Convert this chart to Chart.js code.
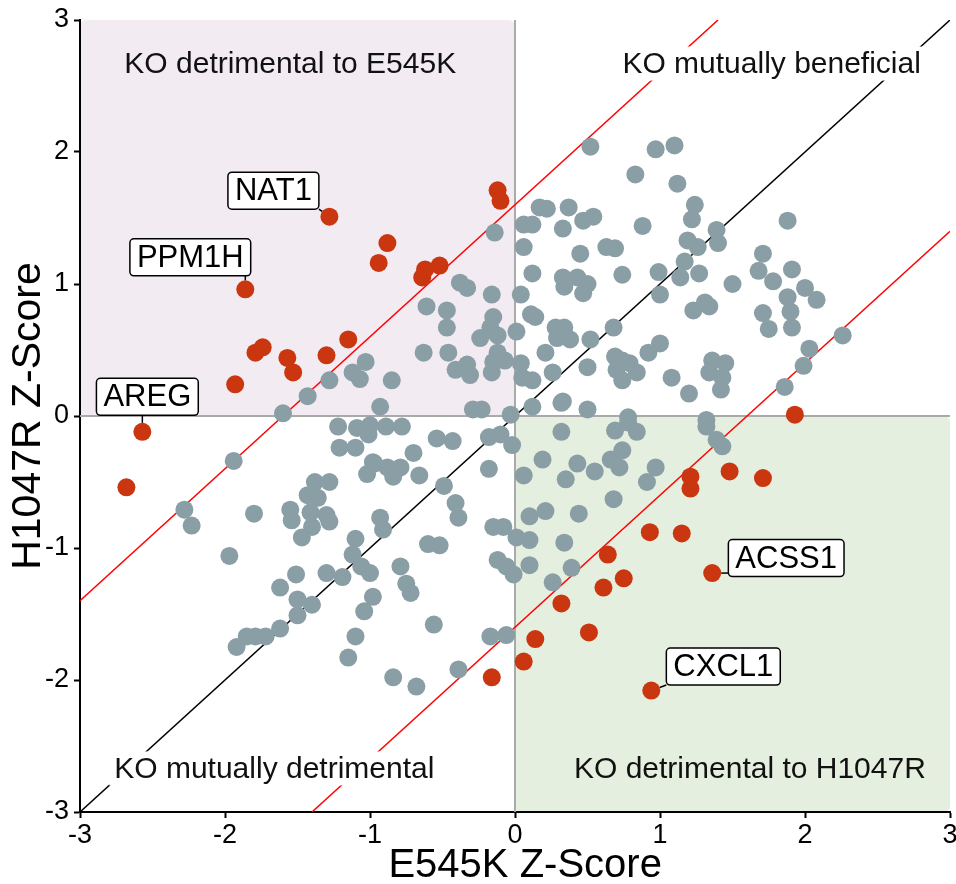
<!DOCTYPE html>
<html>
<head>
<meta charset="utf-8">
<script src="https://cdn.jsdelivr.net/npm/chart.js@4.4.1/dist/chart.umd.min.js"></script>
<style>
  html, body { margin: 0; padding: 0; background: #fff; }
  #wrap { width: 956px; height: 884px; }
</style>
</head>
<body>
<div id="wrap"><canvas id="chart" width="956" height="884"></canvas></div>
<script>
// genes that are not hits (grey)
var otherE545K = [
  0.52, 0.97, 1.10, 0.83, 1.12, 1.24, 1.22, 1.39, 1.40, 1.19, 1.26, 1.88, 0.88, 0.17, 0.22, 0.37,
  0.06, 0.12, 0.33, 0.47, 0.54, 0.06, 0.45, 0.63, 0.69, 0.12, 0.33, 0.34, 0.43, 0.50, 0.47, 0.74,
  0.99, 1.17, 1.14, 1.27, 1.00, 1.50, 1.71, 1.68, 1.78, 1.91, 2.00, 2.08, 1.88, 1.71, 1.75, 1.90,
  1.91, 1.23, 1.31, 1.34, 2.26, 2.03, 1.99, 1.86, 0.04, 0.11, 0.14, 0.01, 0.28, 0.34, 0.29, 0.38,
  0.21, 0.26, 0.50, 0.52, 0.68, 0.69, 0.74, 0.79, 0.70, 0.74, 0.84, 0.92, 1.00, 1.08, 1.20, 1.36,
  1.45, 1.34, 1.43, 1.42, 0.04, 0.05, 0.12, -0.07, 0.33, 0.12, 0.50, 0.78, -0.03, 1.32,
  -0.14, -0.38, -0.33, -0.16, -0.61, -0.47, -0.47, -0.15, -0.17, -0.24, -0.12, -0.63, -0.46, -0.12,
  -0.15, -0.41, -0.33, -0.31, -0.16, -1.03, -1.12, -1.07, -1.28, -0.85, -1.43, -0.93, -0.29, -0.23,
  -1.60, -1.94, -2.28, -2.23, -1.80, -1.97, -1.55, -1.54, -1.38, -1.28, -1.43, -1.36, -1.41, -1.30,
  -1.28, -1.40, -1.47, -1.22, -1.09, -1.00, -1.01, -1.21, -1.10, -0.98, -1.02, -0.93, -1.10, -1.12,
  -1.06, -1.00, -1.30, -1.19, -1.51, -1.62, -1.50, -1.40, -1.50, -0.98, -1.04, -1.10, -1.15, -1.62,
  -1.72, -1.85, -1.79, -1.92, -0.89, -0.78, -0.54, -0.43, -0.70, -0.97, -0.88, -0.79, -0.84, -0.66,
  -0.49, -0.41, -0.39, -0.91, -0.60, -0.52, -0.79, -0.75, -0.72, -0.56, -0.18, -0.18, -0.10, -0.02,
  -0.15, -0.08, 0.01, -0.12, -0.06, -0.01, 0.06, 0.10, 0.10, -0.17, -0.06, -0.39, -0.84, -0.68,
  0.32, 0.32, 0.69, 0.78, 0.84, 1.32, 1.39, 1.43, 0.19, 0.43, 0.55, 0.66, 0.74, 0.72, 0.97, 0.91,
  0.35, 0.68, 0.21, 0.44, 0.10, 0.34, 0.26, 0.39
];
var otherH1047R = [
  2.04, 2.02, 2.05, 1.83, 1.76, 1.60, 1.49, 1.41, 1.31, 1.33, 1.28, 1.48, 1.44, 1.58, 1.57, 1.58,
  1.45, 1.45, 1.42, 1.48, 1.51, 1.28, 1.23, 1.28, 1.27, 1.08, 1.05, 0.98, 1.05, 1.00, 0.93, 1.07,
  1.09, 1.17, 1.05, 1.08, 0.92, 1.00, 1.23, 1.10, 1.02, 1.11, 0.97, 0.88, 0.90, 0.78, 0.66, 0.79,
  0.67, 0.80, 0.86, 0.83, 0.61, 0.51, 0.38, 0.22, 0.92, 0.77, 0.75, 0.64, 0.67, 0.67, 0.59, 0.58,
  0.48, 0.33, 0.37, 0.58, 0.67, 0.45, 0.42, 0.40, 0.35, 0.27, 0.33, 0.48, 0.55, 0.29, 0.17, 0.42,
  0.40, 0.33, 0.29, 0.20, 0.40, 0.29, 0.27, 0.42, 0.11, 0.07, 0.05, -0.01, 0.01, -0.03,
  1.39, 1.01, 0.97, 0.92, 0.83, 0.80, 0.67, 0.75, 0.67, 0.59, 0.61, 0.48, 0.48, 0.48,
  0.41, 0.35, 0.39, 0.31, 0.33, 0.41, 0.33, 0.28, 0.27, 0.27, 0.15, 0.07, 0.05, 0.05,
  0.02, -0.34, -0.71, -0.83, -0.74, -1.06, -0.71, -0.79, -0.50, -0.50, -0.60, -0.62, -0.73, -0.75,
  -0.80, -0.84, -0.92, -0.08, -0.09, -0.07, -0.14, -0.24, -0.24, -0.35, -0.44, -0.77, -0.93, -1.05,
  -1.14, -1.19, -1.19, -1.22, -1.20, -1.30, -1.39, -1.43, -1.51, -1.37, -1.48, -1.67, -1.83, -1.61,
  -1.67, -1.67, -1.67, -1.75, -0.08, -0.08, -0.17, -0.19, -0.28, -0.36, -0.39, -0.39, -0.46, -0.45,
  -0.53, -0.66, -0.77, -0.86, -0.97, -0.98, -1.14, -1.27, -1.34, -1.58, -0.40, -0.16, -0.14, -0.22,
  -0.84, -0.84, -0.92, -1.09, -1.14, -1.20, -0.45, -0.76, -1.13, -1.67, -1.66, -1.92, -1.98, -2.05,
  0.10, -0.12, -0.11, -0.05, -0.12, -0.08, -0.18, -0.23, -0.33, -0.36, -0.42, -0.33, -0.26, -0.39, -0.39, -0.50,
  -0.48, -0.63, -0.72, -0.74, -0.94, -0.96, -1.26, -1.15
];

// hits (red), with the named ones
var hitE545K = [
  -2.57, -2.68, -1.86, -1.28, -1.93, -1.79, -1.74, -1.57, -1.53, -1.30, -1.15, -0.94, -0.88, -0.64,
  -0.62, -0.52, -0.12, -0.10, 1.93, 1.48, 1.71, 1.21, 1.21, 0.93, 1.15, 1.36, 0.64, 0.75, 0.61,
  0.32, 0.51, 0.14, 0.06, -0.16, 0.94
];
var hitH1047R = [
  -0.12, -0.54, 0.96, 1.51, 0.24, 0.48, 0.52, 0.44, 0.33, 0.46, 0.58, 1.16, 1.31, 1.05,
  1.11, 1.14, 1.71, 1.63, 0.01, -0.42, -0.47, -0.46, -0.55, -0.88, -0.89, -1.19, -1.05, -1.23, -1.30,
  -1.42, -1.64, -1.69, -1.86, -1.98, -2.08
];
var hitGenes = [
  'AREG', '', 'PPM1H', 'NAT1', '', '', '', '', '', '', '', '', '', '',
  '', '', '', '', '', '', '', '', '', '', '', 'ACSS1', '', '', '',
  '', '', '', '', '', 'CXCL1'
];

var tickValues = [-3, -2, -1, 0, 1, 2, 3];
var axisMin = -3, axisMax = 3;
var cutoff = 1.6; // red lines: y = x +/- cutoff

var quadrantTexts = ['KO detrimental to E545K', 'KO mutually beneficial', 'KO mutually detrimental', 'KO detrimental to H1047R'];
var xTitle = 'E545K Z-Score';

// where things go (data coords for annotation only)
var quadrantTextPos = [[-1.55, 2.67], [1.77, 2.67], [-1.66, -2.67], [1.62, -2.67]];
var quadrantTextFill = ['#f3ebf2', '#ffffff', '#ffffff', '#e5efdf'];
var labelOffset = {AREG: [5, -35], PPM1H: [-55, -32], NAT1: [-56, -26], ACSS1: [74, -15], CXCL1: [72, -24]};

var GREY = '#8a9ea5';
var RED = '#c9360f';
var FONT = '"Liberation Sans", Arial, Helvetica, sans-serif';

function pts(xs, ys) {
  return xs.map(function(x, i) { return {x: x, y: ys[i]}; });
}

var quadrantPlugin = {
  id: 'quadrants',
  beforeDraw: function(chart) {
    var ctx = chart.ctx, xs = chart.scales.x, ys = chart.scales.y;
    var x0 = xs.getPixelForValue(0), y0 = ys.getPixelForValue(0);
    var l = xs.getPixelForValue(axisMin), r = xs.getPixelForValue(axisMax);
    var t = ys.getPixelForValue(axisMax), b = ys.getPixelForValue(axisMin);
    ctx.save();
    ctx.fillStyle = '#f3ebf2';
    ctx.beginPath();
    ctx.roundRect(l, t, x0 - l, y0 - t, 6);
    ctx.fill();
    ctx.fillStyle = '#e5efdf';
    ctx.beginPath();
    ctx.roundRect(x0, y0, r - x0, b - y0, 6);
    ctx.fill();
    ctx.restore();
  },
  afterDraw: function(chart) {
    // x axis title, a little right of centre as in the original
    var ctx = chart.ctx, xs = chart.scales.x;
    ctx.save();
    ctx.font = '40px ' + FONT;
    ctx.fillStyle = '#000';
    ctx.textAlign = 'center';
    ctx.textBaseline = 'alphabetic';
    ctx.fillText(xTitle, xs.getPixelForValue(0.07), chart.height - 7);
    ctx.restore();
  },
  afterDatasetsDraw: function(chart) {
    var ctx = chart.ctx, xs = chart.scales.x, ys = chart.scales.y;
    ctx.save();
    // quadrant captions
    ctx.font = '30px ' + FONT;
    ctx.textAlign = 'center';
    ctx.textBaseline = 'middle';
    quadrantTexts.forEach(function(txt, i) {
      var cx = xs.getPixelForValue(quadrantTextPos[i][0]);
      var cy = ys.getPixelForValue(quadrantTextPos[i][1]);
      var w = ctx.measureText(txt).width + 10;
      ctx.fillStyle = quadrantTextFill[i];
      ctx.fillRect(cx - w / 2, cy - 17, w, 34);
      ctx.fillStyle = '#111';
      ctx.fillText(txt, cx, cy + 1);
    });

    // gene labels
    ctx.font = '31px ' + FONT;
    hitGenes.forEach(function(g, i) {
      if (!g) return;
      var px = xs.getPixelForValue(hitE545K[i]);
      var py = ys.getPixelForValue(hitH1047R[i]);
      var off = labelOffset[g];
      var cx = px + off[0], cy = py + off[1];
      var w = ctx.measureText(g).width + 14, h = 37;
      var bl = cx - w / 2, bt = cy - h / 2;
      // connector to nearest point of the box
      var nx = Math.min(Math.max(px, bl), bl + w);
      var ny = Math.min(Math.max(py, bt), bt + h);
      var dx = nx - px, dy = ny - py, d = Math.sqrt(dx * dx + dy * dy);
      if (d > 9) {
        ctx.strokeStyle = '#000';
        ctx.lineWidth = 1.5;
        ctx.beginPath();
        ctx.moveTo(px + dx / d * 9, py + dy / d * 9);
        ctx.lineTo(nx, ny);
        ctx.stroke();
      }
      ctx.fillStyle = '#fff';
      ctx.strokeStyle = '#000';
      ctx.lineWidth = 1.5;
      ctx.beginPath();
      ctx.roundRect(bl, bt, w, h, 4);
      ctx.fill();
      ctx.stroke();
      ctx.fillStyle = '#000';
      ctx.fillText(g, cx, cy + 1);
    });
    ctx.restore();
  }
};

function fixAxis(size) {
  return function(scale) {
    if (scale.isHorizontal()) scale.height = size; else scale.width = size;
    scale.paddingLeft = 0; scale.paddingRight = 0;
    scale.paddingTop = 0; scale.paddingBottom = 0;
  };
}

function setTicks(scale) {
  scale.ticks = tickValues.map(function(v) { return {value: v}; });
}

var lineStyle = {type: 'line', showLine: true, pointRadius: 0, fill: false, tension: 0};

new Chart(document.getElementById('chart'), {
  type: 'scatter',
  data: {
    datasets: [
      Object.assign({}, lineStyle, {
        data: [{x: 0, y: axisMin}, {x: 0, y: axisMax}],
        borderColor: '#aaaaaa', borderWidth: 2, order: 6
      }),
      Object.assign({}, lineStyle, {
        data: [{x: axisMin, y: 0}, {x: axisMax, y: 0}],
        borderColor: '#aaaaaa', borderWidth: 2, order: 6
      }),
      Object.assign({}, lineStyle, {
        data: [{x: axisMin, y: axisMin}, {x: axisMax, y: axisMax}],
        borderColor: '#000000', borderWidth: 1.5, order: 5
      }),
      Object.assign({}, lineStyle, {
        data: [{x: axisMin, y: axisMin + cutoff}, {x: axisMax - cutoff, y: axisMax}],
        borderColor: '#ff0000', borderWidth: 1.5, order: 5
      }),
      Object.assign({}, lineStyle, {
        data: [{x: axisMin + cutoff, y: axisMin}, {x: axisMax, y: axisMax - cutoff}],
        borderColor: '#ff0000', borderWidth: 1.5, order: 5
      }),
      {
        data: pts(otherE545K, otherH1047R),
        backgroundColor: GREY, borderWidth: 0, pointRadius: 9, order: 4
      },
      {
        data: pts(hitE545K, hitH1047R),
        backgroundColor: RED, borderWidth: 0, pointRadius: 9, order: 3
      }
    ]
  },
  options: {
    responsive: false,
    animation: false,
    devicePixelRatio: 1,
    events: [],
    layout: {autoPadding: false, padding: {top: 20, right: 6, left: 0, bottom: 0}},
    plugins: {legend: {display: false}, tooltip: {enabled: false}},
    scales: {
      x: {
        type: 'linear', min: axisMin, max: axisMax,
        afterBuildTicks: setTicks,
        afterFit: fixAxis(72),
        grid: {drawOnChartArea: false, drawTicks: true, tickLength: 6, tickWidth: 2, tickColor: '#000'},
        border: {display: true, color: '#000', width: 2},
        ticks: {color: '#000', font: {family: FONT, size: 27}, padding: 1, maxRotation: 0},
        title: {display: false}
      },
      y: {
        type: 'linear', min: axisMin, max: axisMax,
        afterBuildTicks: setTicks,
        afterFit: fixAxis(80),
        grid: {drawOnChartArea: false, drawTicks: true, tickLength: 6, tickWidth: 2, tickColor: '#000'},
        border: {display: true, color: '#000', width: 2},
        ticks: {color: '#000', font: {family: FONT, size: 27}, padding: 5},
        title: {display: true, text: 'H1047R Z-Score', color: '#000', font: {family: FONT, size: 41}, padding: {top: 4, bottom: 0}}
      }
    }
  },
  plugins: [quadrantPlugin]
});
</script>
</body>
</html>
